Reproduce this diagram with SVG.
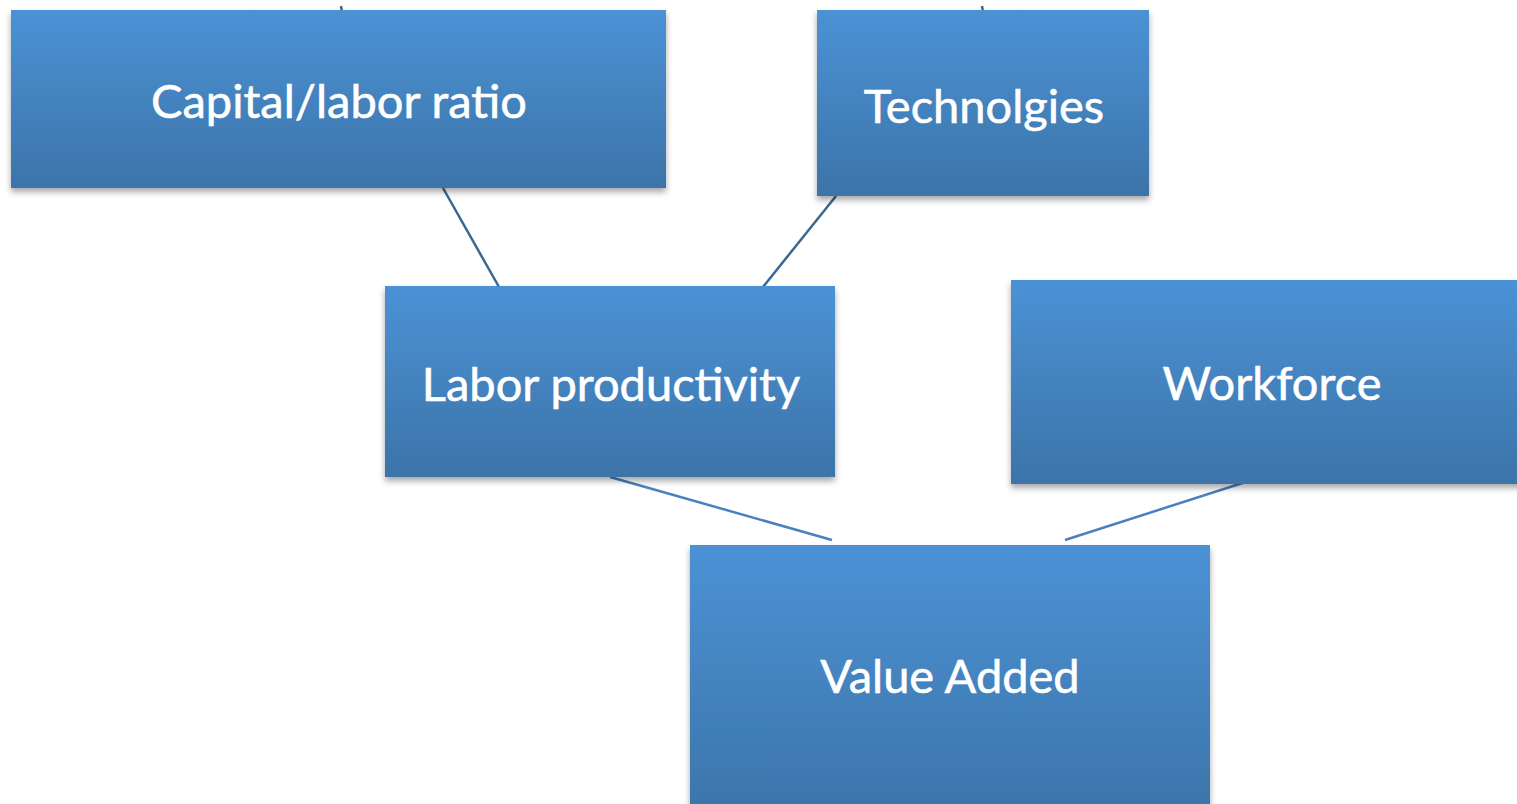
<svg xmlns="http://www.w3.org/2000/svg" width="1517" height="804" viewBox="0 0 1517 804">
  <defs>
    <linearGradient id="boxFill" x1="0" y1="0" x2="0" y2="1">
      <stop offset="0" stop-color="#4b92d5"/>
      <stop offset="1" stop-color="#3c74a9"/>
    </linearGradient>
    <filter id="shadow" x="-5%" y="-5%" width="110%" height="115%">
      <feDropShadow dx="0" dy="4" stdDeviation="3" flood-color="#000" flood-opacity="0.35"/>
    </filter>
    <style>
      .box { fill: url(#boxFill); filter: url(#shadow); }
      .label { fill: #ffffff; stroke: #ffffff; stroke-width: 0.6; font-family: Lato, "Open Sans", "Liberation Sans", sans-serif; font-size: 47px; text-anchor: middle; }
      .link-dark { stroke: #3a6892; stroke-width: 2.5; fill: none; }
      .link-light { stroke: #4a80bd; stroke-width: 2.5; fill: none; }
    </style>
  </defs>
  <rect width="1517" height="804" fill="#ffffff"/>

  <g id="connectors">
    <line class="link-dark" x1="341" y1="6" x2="342" y2="12"/>
    <line class="link-dark" x1="982" y1="6" x2="983" y2="12"/>
    <line class="link-dark" x1="443" y1="188" x2="499" y2="287"/>
    <line class="link-dark" x1="836" y1="196" x2="763" y2="287"/>
    <line class="link-light" x1="610" y1="477" x2="832" y2="540"/>
    <line class="link-light" x1="1255" y1="479" x2="1065" y2="540"/>
  </g>

  <g id="node-capital-labor">
    <rect class="box" x="11" y="10" width="655" height="178"/>
    <text class="label" x="339" y="118">Capital/labor ratio</text>
  </g>

  <g id="node-technologies">
    <rect class="box" x="817" y="10" width="332" height="186"/>
    <text class="label" x="984" y="123">Technolgies</text>
  </g>

  <g id="node-labor-productivity">
    <rect class="box" x="385" y="286" width="450" height="191"/>
    <text class="label" x="611" y="401">Labor productivity</text>
  </g>

  <g id="node-workforce">
    <rect class="box" x="1011" y="280" width="520" height="204"/>
    <text class="label" x="1272" y="400">Workforce</text>
  </g>

  <g id="node-value-added">
    <rect class="box" x="690" y="545" width="520" height="275"/>
    <text class="label" x="950" y="693">Value Added</text>
  </g>
</svg>
